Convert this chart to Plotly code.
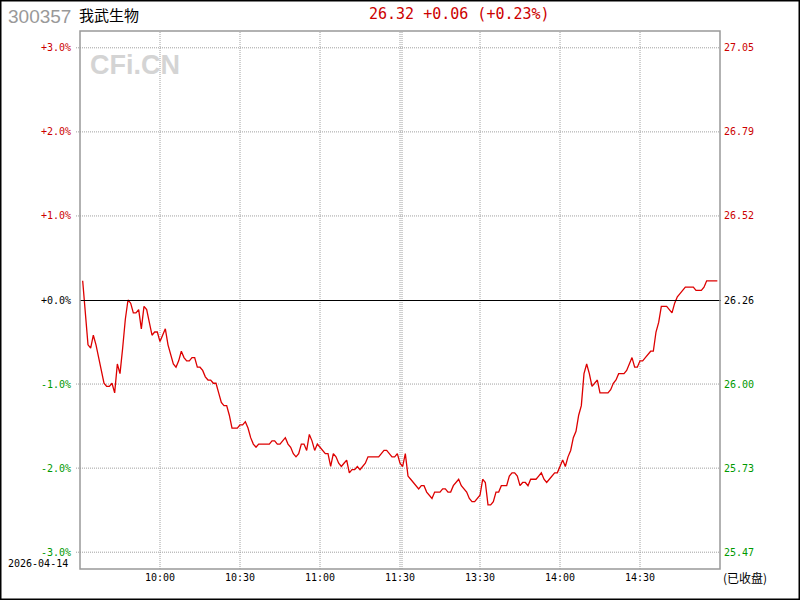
import plotly.graph_objects as go

# ---------------- data ----------------
stock_code = "300357"
stock_name = "我武生物"
trade_date = "2026-04-14"
prev_close = 26.26
last_price = "26.32"
change_text = "+0.06"
change_pct_text = "(+0.23%)"
status_text = "(已收盘)"

tick_minutes = [30, 60, 90, 120, 150, 180, 210]
tick_labels = ["10:00", "10:30", "11:00", "11:30", "13:30", "14:00", "14:30"]

pct_ticks = [3, 2, 1, 0, -1, -2, -3]
pct_labels = ["+3.0%", "+2.0%", "+1.0%", "+0.0%", "-1.0%", "-2.0%", "-3.0%"]
price_labels = ["27.05", "26.79", "26.52", "26.26", "26.00", "25.73", "25.47"]

prices = [
    26.32, 26.21, 26.12, 26.11, 26.15, 26.12, 26.08, 26.05, 26.00, 25.99,
    25.99, 26.00, 25.97, 26.06, 26.03, 26.11, 26.20, 26.26, 26.25, 26.22,
    26.22, 26.23, 26.17, 26.24, 26.23, 26.19, 26.15, 26.16, 26.16, 26.13,
    26.15, 26.17, 26.12, 26.09, 26.06, 26.05, 26.07, 26.10, 26.08, 26.07,
    26.07, 26.08, 26.08, 26.05, 26.05, 26.04, 26.02, 26.01, 26.01, 26.00,
    26.00, 25.97, 25.94, 25.93, 25.93, 25.90, 25.86, 25.86, 25.86, 25.87,
    25.87, 25.88, 25.86, 25.83, 25.81, 25.80, 25.81, 25.81, 25.81, 25.81,
    25.81, 25.82, 25.82, 25.81, 25.81, 25.82, 25.83, 25.81, 25.80, 25.78,
    25.77, 25.78, 25.81, 25.81, 25.79, 25.84, 25.82, 25.79, 25.81, 25.80,
    25.79, 25.78, 25.78, 25.74, 25.78, 25.77, 25.75, 25.74, 25.75, 25.76,
    25.72, 25.73, 25.73, 25.74, 25.73, 25.74, 25.75, 25.77, 25.77, 25.77,
    25.77, 25.77, 25.78, 25.79, 25.79, 25.78, 25.77, 25.77, 25.78, 25.75,
    25.74, 25.78, 25.71, 25.70, 25.69, 25.68, 25.67, 25.68, 25.68, 25.66,
    25.65, 25.64, 25.66, 25.66, 25.66, 25.67, 25.67, 25.66, 25.66, 25.68,
    25.69, 25.70, 25.68, 25.67, 25.66, 25.64, 25.63, 25.63, 25.64, 25.65,
    25.70, 25.69, 25.62, 25.62, 25.63, 25.66, 25.66, 25.68, 25.68, 25.68,
    25.71, 25.72, 25.72, 25.71, 25.68, 25.69, 25.69, 25.68, 25.70, 25.70,
    25.70, 25.71, 25.72, 25.70, 25.69, 25.70, 25.71, 25.72, 25.72, 25.74,
    25.76, 25.74, 25.77, 25.79, 25.83, 25.85, 25.90, 25.93, 26.03, 26.06,
    26.03, 25.99, 26.00, 26.01, 25.97, 25.97, 25.97, 25.97, 25.98, 26.00,
    26.01, 26.03, 26.03, 26.03, 26.04, 26.06, 26.08, 26.05, 26.05, 26.07,
    26.07, 26.08, 26.09, 26.10, 26.10, 26.16, 26.19, 26.24, 26.24, 26.24,
    26.23, 26.22, 26.25, 26.27, 26.28, 26.29, 26.30, 26.30, 26.30, 26.30,
    26.29, 26.29, 26.29, 26.30, 26.32, 26.32, 26.32, 26.32, 26.32,
]
minutes = list(range(1, len(prices) + 1))

# ---------------- styling ----------------
RED = "#cc0000"
LINE_RED = "#dd0000"
GREEN = "#009900"
GRID = "#a0a0a0"
MONO = "DejaVu Sans Mono"
CJK = "Noto Sans CJK SC"

W, H = 800, 600
ML, MR, MT, MB = 80, 80, 31, 31
PW, PH = W - ML - MR, H - MT - MB
Y_SPAN = 6.4  # total percent span of the y axis (-3.2 .. 3.2)


def px_x(px):
    return (px - ML) / PW


def px_y(py):
    return (H - MB - py) / PH


pct = [(p / prev_close - 1) * 100 for p in prices]

fig = go.Figure()
fig.add_trace(go.Scatter(x=minutes, y=pct, mode="lines",
                         line=dict(color=LINE_RED, width=1.3),
                         hoverinfo="skip", showlegend=False))

DOT = "1px,1px"
shapes = []
for t in tick_minutes:
    shapes.append(dict(type="line", xref="x", yref="paper", x0=t, x1=t, y0=0, y1=1,
                       line=dict(color=GRID, width=1, dash=DOT), layer="below"))
# double separator at lunch break
shapes.append(dict(type="line", xref="x", yref="paper", x0=120.75, x1=120.75, y0=0, y1=1,
                   line=dict(color=GRID, width=1, dash=DOT), layer="below"))
for v in pct_ticks:
    if v == 0:
        continue
    shapes.append(dict(type="line", xref="paper", yref="y", x0=px_x(76), x1=1, y0=v, y1=v,
                       line=dict(color=GRID, width=1, dash=DOT), layer="below"))
# previous-close line, nudged half a pixel so it renders crisp
half_px = 0.5 * Y_SPAN / PH
shapes.append(dict(type="line", xref="paper", yref="y", x0=0, x1=px_x(721),
                   y0=-half_px, y1=-half_px, line=dict(color="black", width=1)))
# plot frame
shapes.append(dict(type="rect", xref="paper", yref="paper", x0=0, x1=1, y0=0, y1=1,
                   line=dict(color="#999999", width=1.5)))
# outer border
shapes.append(dict(type="rect", xref="paper", yref="paper",
                   x0=px_x(0.75), x1=px_x(799.25), y0=px_y(599.25), y1=px_y(0.75),
                   line=dict(color="black", width=1.5)))

ann = []
for v, lab, plab in zip(pct_ticks, pct_labels, price_labels):
    col = RED if v > 0 else (GREEN if v < 0 else "black")
    ann.append(dict(xref="paper", yref="y", x=px_x(72.5), y=v, text=lab, showarrow=False,
                    xanchor="right", yanchor="middle", font=dict(family=MONO, size=10, color=col)))
    ann.append(dict(xref="paper", yref="y", x=px_x(721.5), y=v, text=plab, showarrow=False,
                    xanchor="left", yanchor="middle", font=dict(family=MONO, size=10, color=col)))
for t, lab in zip(tick_minutes, tick_labels):
    ann.append(dict(xref="x", yref="paper", x=t, y=px_y(577), text=lab, showarrow=False,
                    xanchor="center", yanchor="middle", font=dict(family=MONO, size=10, color="black")))
ann.append(dict(xref="paper", yref="paper", x=px_x(5.5), y=px_y(563), text=trade_date, showarrow=False,
                xanchor="left", yanchor="middle", font=dict(family=MONO, size=10, color="black")))
ann.append(dict(xref="paper", yref="paper", x=px_x(721), y=px_y(577), text=status_text, showarrow=False,
                xanchor="left", yanchor="middle", font=dict(family=CJK, size=12, color="black")))
ann.append(dict(xref="paper", yref="paper", x=px_x(6), y=px_y(16), text=stock_code, showarrow=False,
                xanchor="left", yanchor="middle", font=dict(family="Liberation Sans", size=19, color="#999999")))
ann.append(dict(xref="paper", yref="paper", x=px_x(77), y=px_y(15), text=stock_name, showarrow=False,
                xanchor="left", yanchor="middle", font=dict(family=CJK, size=15, color="black")))
ann.append(dict(xref="paper", yref="paper", x=px_x(459.5), y=px_y(14.5),
                text=f"{last_price} {change_text} {change_pct_text}", showarrow=False,
                xanchor="center", yanchor="middle", font=dict(family=MONO, size=15, color=RED)))
ann.append(dict(xref="paper", yref="paper", x=px_x(88), y=px_y(65), text="<b>CFi.CN</b>", showarrow=False,
                xanchor="left", yanchor="middle", font=dict(family="Liberation Sans", size=27, color="#d4d4d4")))

fig.update_layout(
    width=W, height=H,
    margin=dict(l=ML, r=MR, t=MT, b=MB, pad=0),
    paper_bgcolor="white", plot_bgcolor="white",
    xaxis=dict(range=[0, 240], showgrid=False, zeroline=False, showticklabels=False,
               ticks="", showline=False, fixedrange=True),
    yaxis=dict(range=[-Y_SPAN / 2, Y_SPAN / 2], showgrid=False, zeroline=False, showticklabels=False,
               ticks="", showline=False, fixedrange=True),
    shapes=shapes, annotations=ann, showlegend=False,
)

fig.write_html("out.html", config={"displayModeBar": False},
               post_script="document.body.style.margin='0';document.body.style.overflow='hidden';")
